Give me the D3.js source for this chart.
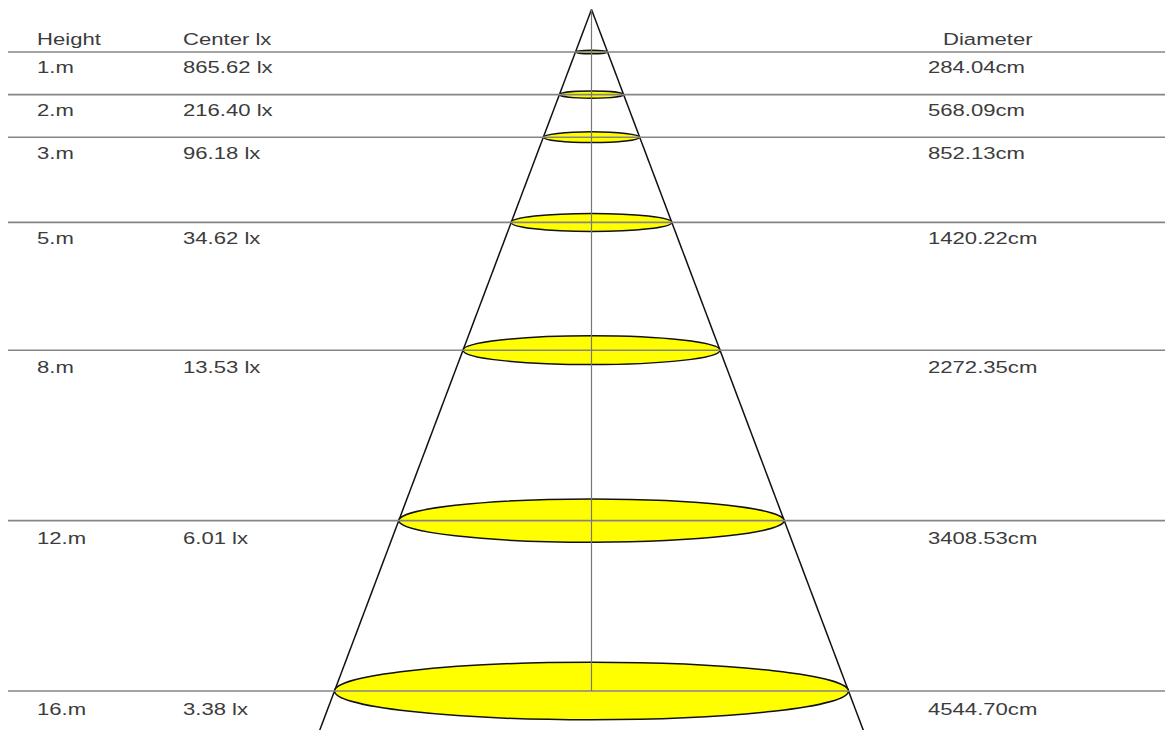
<!DOCTYPE html>
<html>
<head>
<meta charset="utf-8">
<script src="https://cdn.jsdelivr.net/npm/d3@7"></script>
<style>
  html, body { margin: 0; padding: 0; background: #fff; }
  svg { display: block; }
  .lbl { font-family: "Liberation Sans", Arial, sans-serif; font-size: 17px; fill: #3c3c3c; }
</style>
</head>
<body>
<div id="chart"></div>
<script>
// mounting heights (m), illuminance at center and beam diameter
const heights = [1, 2, 3, 5, 8, 12, 16];
const heightLabels = ["1.m", "2.m", "3.m", "5.m", "8.m", "12.m", "16.m"];
const centerLux = ["865.62 lx", "216.40 lx", "96.18 lx", "34.62 lx", "13.53 lx", "6.01 lx", "3.38 lx"];
const diameters = [284.04, 568.09, 852.13, 1420.22, 2272.35, 3408.53, 4544.70];
const headers = ["Height", "Center lx", "Diameter"];

const W = 1165, H = 730;
const cx = 591.5;

const svg = d3.select('#chart')
  .append('svg')
  .attr('width', W)
  .attr('height', H);

// height -> vertical position
const y = d3.scaleLinear().domain([0, 16]).range([9.4, 691]);
// text baseline follows its own slightly different step
const yText = d3.scaleLinear().domain([1, 16]).range([73, 715]);
// beam radius in cm -> px
const r = d3.scaleLinear().domain([0, 2272.35]).range([0, 257]);

const rows = heights.map((h, i) => ({
  h: h, label: heightLabels[i], lux: centerLux[i], dia: diameters[i]
}));

// cone sides, through the beam edges and off the bottom
const slope = r(diameters[6] / 2) / (y(16) - y(0));
const yEnd = y(18);
[-1, 1].forEach(s => {
  svg.append('line')
    .attr('x1', cx).attr('y1', y(0))
    .attr('x2', cx + s * slope * (yEnd - y(0))).attr('y2', yEnd)
    .attr('stroke', '#111')
    .attr('stroke-width', 1.5);
});

// beam ellipses
svg.append('g')
  .selectAll('ellipse')
  .data(rows)
  .join('ellipse')
  .attr('cx', cx)
  .attr('cy', d => y(d.h))
  .attr('rx', d => r(d.dia / 2))
  .attr('ry', d => Math.max(1.8, r(d.dia / 2) * 0.112))
  .attr('fill', '#ffff00')
  .attr('stroke', '#111')
  .attr('stroke-width', 1.5);

// horizontal level lines
svg.append('g')
  .selectAll('line')
  .data(rows)
  .join('line')
  .attr('x1', 8)
  .attr('x2', W)
  .attr('y1', d => y(d.h))
  .attr('y2', d => y(d.h))
  .attr('stroke', '#858585')
  .attr('stroke-width', 1.6);

// center axis
svg.append('line')
  .attr('x1', cx).attr('x2', cx)
  .attr('y1', y(0)).attr('y2', y(16))
  .attr('stroke', '#777')
  .attr('stroke-width', 1.2);

const colX = [37, 183, 928];

function addText(x, yy, t) {
  svg.append('text')
    .attr('class', 'lbl')
    .attr('transform', `translate(${x},${yy}) scale(1.3,1)`)
    .text(t);
}

// headers
addText(37, y(1) - 7, headers[0]);
addText(183, y(1) - 7, headers[1]);
addText(943, y(1) - 7, headers[2]);

// rows
rows.forEach(d => {
  addText(colX[0], yText(d.h), d.label);
  addText(colX[1], yText(d.h), d.lux);
  addText(colX[2], yText(d.h), d.dia.toFixed(2) + 'cm');
});
</script>
</body>
</html>
